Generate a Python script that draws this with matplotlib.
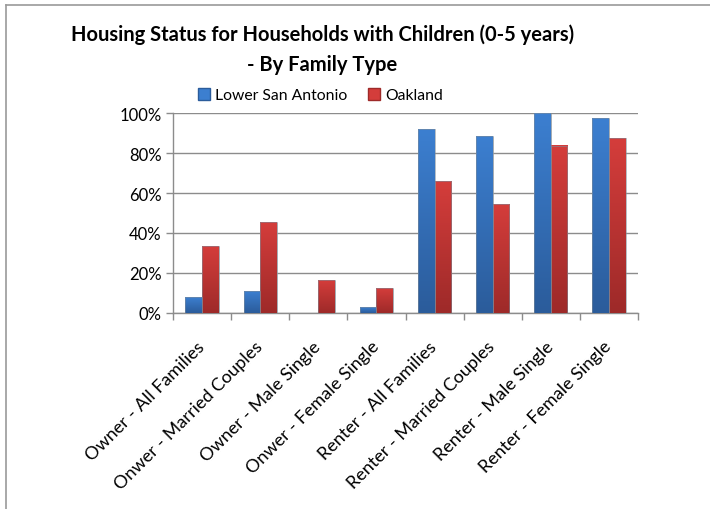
"""
Housing status for households with children (0-5 years), by family type
"""

import numpy as np
import matplotlib
matplotlib.use('Agg')
import matplotlib.pyplot as plt
from matplotlib.lines import Line2D
from matplotlib.patches import Rectangle
from matplotlib.ticker import PercentFormatter, FixedLocator

plt.rcParams['font.family'] = ['Lato', 'DejaVu Sans']

categories = [
    "Owner - All Families", "Onwer - Married Couples", "Owner - Male Single",
    "Onwer - Female Single", "Renter - All Families", "Renter - Married Couples",
    "Renter - Male Single", "Renter - Female Single",
]
lower_san_antonio = [0.078, 0.108, 0.0, 0.028, 0.918, 0.883, 1.0, 0.973]
oakland = [0.333, 0.453, 0.163, 0.123, 0.658, 0.543, 0.837, 0.873]
series_names = ["Lower San Antonio", "Oakland"]
y_ticks = [0, 0.2, 0.4, 0.6, 0.8, 1.0]

# gradient colours (top, bottom)
BLUE = ("#3c7fd0", "#2b5c9b")
RED = ("#d43d3b", "#9e2a29")
GRID = "#8c8c8c"


def gradient_bar(ax, x0, w, h, top, bottom):
    if h <= 0:
        return
    c_top = np.array(matplotlib.colors.to_rgb(top))
    c_bot = np.array(matplotlib.colors.to_rgb(bottom))
    t = np.linspace(0, 1, 64)[:, None]
    img = (c_top * (1 - t) + c_bot * t)[:, None, :]
    # thin shadow on the right side
    ax.add_patch(Rectangle((x0 + 0.015, 0), w, h - 0.004, facecolor="#bdbdbd",
                           edgecolor="none", zorder=2, alpha=0.6))
    ax.imshow(img, extent=[x0, x0 + w, 0, h], aspect="auto", origin="upper",
              zorder=3, interpolation="bilinear")
    ax.add_patch(Rectangle((x0, 0), w, h, facecolor="none", edgecolor="#7f8c99",
                           linewidth=0.4, zorder=4))


fig = plt.figure(figsize=(7.1, 5.1), dpi=100)
ax = fig.add_axes([173 / 710, 1 - 314 / 510, 465 / 710, 200 / 510])

n = len(categories)
x = np.arange(n)
bw = 0.287
for i in range(n):
    gradient_bar(ax, x[i] - bw, bw, lower_san_antonio[i], *BLUE)
    gradient_bar(ax, x[i], bw, oakland[i], *RED)

ax.set_xlim(-0.5, n - 0.5)
ax.set_ylim(0, 1)
ax.yaxis.set_major_locator(FixedLocator(y_ticks))
ax.yaxis.set_major_formatter(PercentFormatter(1.0, decimals=0))
ax.grid(axis="y", color=GRID, linewidth=1.0, zorder=0)
ax.set_axisbelow(True)

ax.set_xticks(x)
ax.set_xticklabels(categories, rotation=45, ha="right", va="center",
                   rotation_mode="anchor", fontsize=13)
ax.tick_params(axis="x", length=0, pad=22)
ax.set_xticks(np.arange(n + 1) - 0.5, minor=True)
ax.tick_params(axis="x", which="minor", length=5, color=GRID, width=1)
ax.tick_params(axis="y", length=5, color=GRID, width=1, labelsize=12, pad=3)

for s in ["top", "right"]:
    ax.spines[s].set_visible(False)
for s in ["left", "bottom"]:
    ax.spines[s].set_color(GRID)
    ax.spines[s].set_linewidth(1.0)

fig.text(0.454, 1 - 35 / 510, "Housing Status for Households with Children (0-5 years)",
         ha="center", va="center", fontsize=14.5, fontweight="bold")
fig.text(0.454, 1 - 65 / 510, "- By Family Type",
         ha="center", va="center", fontsize=14.5, fontweight="bold")

handles = [Line2D([], [], linestyle="none", marker="s", markersize=9,
                  markerfacecolor=c[0], markeredgecolor=c[1])
           for c in (BLUE, RED)]
fig.legend(handles, series_names, loc="center", bbox_to_anchor=(0.451, 1 - 96 / 510),
           ncol=2, frameon=False, fontsize=11.3, handlelength=0.8,
           handletextpad=0.3, columnspacing=1.3)

# chart area border (top and left edges visible)
fig.add_artist(Line2D([6 / 710, 1], [1 - 6 / 510] * 2, color="#9a9a9a", linewidth=1.2,
                      transform=fig.transFigure))
fig.add_artist(Line2D([6 / 710] * 2, [0, 1 - 6 / 510], color="#9a9a9a", linewidth=1.2,
                      transform=fig.transFigure))

fig.savefig("out.png", dpi=100)
plt.close()
